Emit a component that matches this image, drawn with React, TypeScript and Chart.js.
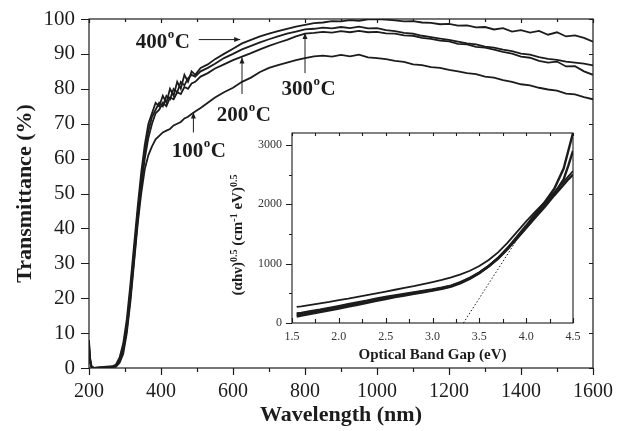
import React, { useEffect, useRef } from 'react';
import { Chart, registerables } from 'chart.js';

Chart.register(...registerables);

// ---------- Main chart data ----------
const wavelengths = [200, 203, 207, 215, 240, 265, 275, 285, 295, 305, 315, 325, 335, 345, 355, 365, 375, 385, 395, 405, 415, 425, 435, 445, 455, 465, 475, 485, 495, 510, 530, 550, 575, 600, 625, 650, 675, 700, 725, 750, 775, 800, 825, 850, 875, 900, 925, 950, 975, 1000, 1025, 1050, 1075, 1100, 1125, 1150, 1175, 1200, 1225, 1250, 1275, 1300, 1325, 1350, 1375, 1400, 1425, 1450, 1475, 1500, 1525, 1550, 1575, 1600];

const t400 = [8, 3, 0.5, 0, 0.3, 0.5, 1, 3, 7, 14, 24, 35, 46, 56, 64, 70, 73, 76, 75, 78, 76, 80, 78, 82, 80, 84, 82, 85, 84, 86, 87, 88.5, 90, 91.5, 93, 94, 95, 95.8, 96.5, 97.2, 97.8, 98.3, 98.8, 99, 99.4, 99.3, 99.7, 99.5, 99.9, 100, 99.8, 99.6, 99.3, 99.4, 99, 98.9, 98.5, 98.6, 98.1, 98.2, 97.6, 97.7, 97, 97.4, 96.4, 96.8, 96.1, 96.6, 95.5, 96.2, 95, 95.3, 94.6, 93.5];

const t300 = [7, 2.5, 0.3, 0, 0.2, 0.3, 0.8, 2.5, 6, 12, 22, 33, 44, 54, 62, 68, 72, 74, 76, 75, 78, 77, 80, 79, 82, 81, 83, 84, 83.5, 85, 86, 87.2, 88.8, 90, 91.3, 92.3, 93.3, 94.2, 95, 95.8, 96.4, 97, 97.2, 97.5, 97.3, 97.7, 97.4, 97.8, 97.3, 97.4, 96.8, 96.5, 96, 95.8, 95.2, 94.8, 94.4, 94, 93.5, 93, 92.7, 92.1, 91.8, 91.2, 90.8, 90.1, 89.8, 89.1, 88.6, 88.3, 87.8, 87.5, 87.2, 86.7];

const t200 = [6, 2, 0.2, 0, 0.2, 0.2, 0.5, 2, 5, 11, 20, 31, 42, 52, 60, 66, 70, 73, 74, 76, 75, 77.5, 77, 79, 78.5, 80.5, 80, 81.5, 82, 83.5, 84.5, 85.8, 87, 88.2, 89.2, 90.2, 91.3, 92.3, 93.2, 94, 95, 95.8, 96, 96.3, 96.1, 96.5, 96.2, 96.6, 96.2, 96.3, 95.9, 95.8, 95.3, 95.2, 94.6, 94.3, 93.8, 93.6, 92.9, 92.7, 92, 91.8, 91.2, 90.6, 90.1, 89.2, 88.9, 88, 87.5, 87.8, 86.4, 86.5, 85, 84];

const t100 = [5, 1.5, 0.2, 0, 0.1, 0.2, 0.4, 1.5, 4, 10, 19, 30, 41, 50, 57, 61, 63.5, 65.5, 66.5, 67.5, 68, 68.5, 69.5, 70, 70.5, 71.5, 72, 72.8, 73.5, 74.5, 76, 77.5, 79, 80.3, 82, 83.2, 84.8, 86, 86.8, 87.5, 88.2, 88.8, 89.3, 89.5, 89.2, 89.7, 89.3, 89.8, 89, 88.8, 88.5, 88, 87.7, 87, 86.8, 86.2, 86, 85.4, 85, 84.5, 84.2, 83.5, 83.2, 82.5, 82, 81.3, 81, 80.3, 79.8, 79.5, 78.6, 78.4, 77.6, 77];

const mainXTickLabels = [200, 400, 600, 800, 1000, 1200, 1400, 1600];
const mainYTickLabels = [0, 10, 20, 30, 40, 50, 60, 70, 80, 90, 100];

// ---------- Inset data ----------
const insetEnergy = [1.55, 1.6, 1.7, 1.8, 1.9, 2.0, 2.1, 2.2, 2.3, 2.4, 2.5, 2.6, 2.7, 2.8, 2.9, 3.0, 3.1, 3.2, 3.3, 3.4, 3.5, 3.6, 3.7, 3.8, 3.9, 4.0, 4.1, 4.2, 4.3, 4.4, 4.45, 4.5];

const insetA = [270, 280, 305, 330, 355, 385, 410, 440, 470, 500, 530, 560, 590, 620, 655, 690, 725, 770, 820, 880, 960, 1060, 1190, 1350, 1530, 1710, 1880, 2040, 2200, 2380, 2470, 2560];
const insetB = [160, 170, 200, 225, 255, 285, 315, 345, 375, 410, 440, 465, 490, 515, 540, 565, 595, 630, 690, 760, 850, 960, 1090, 1250, 1430, 1610, 1800, 1990, 2180, 2420, 2650, 2900];
const insetC = [110, 125, 155, 185, 215, 245, 275, 305, 340, 375, 405, 435, 460, 490, 515, 545, 575, 615, 670, 745, 840, 955, 1095, 1260, 1450, 1640, 1840, 2040, 2260, 2600, 2900, 3200];
const insetD = [140, 150, 180, 210, 240, 270, 300, 330, 360, 395, 425, 450, 478, 505, 530, 555, 585, 625, 680, 755, 845, 955, 1085, 1245, 1420, 1600, 1780, 1960, 2150, 2330, 2420, 2500];

const tangentX = [3.33, 3.9];
const tangentY = [0, 1400];

const insetXTickLabels = [1.5, 2.0, 2.5, 3.0, 3.5, 4.0, 4.5];
const insetYTickLabels = [0, 1000, 2000, 3000];

// ---------- Labels (temperature annotations) ----------
const tempLabels = ['400', '200', '300', '100'];

const SERIF = "'Liberation Serif', 'Times New Roman', serif";
const INK = '#1c1c1c';

function pts(xs: number[], ys: number[]) {
  return xs.map((x, i) => ({ x, y: ys[i] }));
}

function noPad(s: any) {
  s.paddingTop = 0;
  s.paddingBottom = 0;
  s.paddingLeft = 0;
  s.paddingRight = 0;
}

function drawTempLabel(ctx: CanvasRenderingContext2D, num: string, cx: number, cy: number) {
  const big = `bold 21px ${SERIF}`;
  const small = `bold 13px ${SERIF}`;
  ctx.font = big;
  const wNum = ctx.measureText(num).width;
  const wC = ctx.measureText('C').width;
  ctx.font = small;
  const wO = ctx.measureText('o').width;
  const total = wNum + wO + 1 + wC;
  let x = cx - total / 2;
  ctx.textBaseline = 'alphabetic';
  ctx.textAlign = 'left';
  ctx.fillStyle = INK;
  ctx.font = big;
  ctx.fillText(num, x, cy + 7);
  x += wNum;
  ctx.font = small;
  ctx.fillText('o', x + 0.5, cy - 3);
  x += wO + 1;
  ctx.font = big;
  ctx.fillText('C', x, cy + 7);
}

function arrow(ctx: CanvasRenderingContext2D, x1: number, y1: number, x2: number, y2: number) {
  ctx.beginPath();
  ctx.moveTo(x1, y1);
  ctx.lineTo(x2, y2);
  ctx.stroke();
  const ang = Math.atan2(y2 - y1, x2 - x1);
  const L = 6, W = 2.5;
  ctx.beginPath();
  ctx.moveTo(x2, y2);
  ctx.lineTo(x2 - L * Math.cos(ang) + W * Math.sin(ang), y2 - L * Math.sin(ang) - W * Math.cos(ang));
  ctx.lineTo(x2 - L * Math.cos(ang) - W * Math.sin(ang), y2 - L * Math.sin(ang) + W * Math.cos(ang));
  ctx.closePath();
  ctx.fill();
}

const mainFrame = {
  id: 'mainFrame',
  afterDraw(chart: any) {
    const { ctx, chartArea: a, scales } = chart;
    const sx = scales.x, sy = scales.y;
    ctx.save();
    ctx.strokeStyle = INK;
    ctx.fillStyle = INK;
    ctx.lineWidth = 1.2;
    ctx.strokeRect(a.left, a.top, a.right - a.left, a.bottom - a.top);
    ctx.beginPath();
    for (let v = 200; v <= 1600; v += 100) {
      const px = Math.round(sx.getPixelForValue(v)) + 0.5;
      const major = mainXTickLabels.includes(v);
      ctx.moveTo(px, a.bottom);
      ctx.lineTo(px, a.bottom + (major ? 7 : 4));
      ctx.moveTo(px, a.top);
      ctx.lineTo(px, a.top + (major ? 4 : 3));
    }
    for (let v = 0; v <= 100; v += 10) {
      const py = Math.round(sy.getPixelForValue(v)) + 0.5;
      ctx.moveTo(a.left, py);
      ctx.lineTo(a.left - 8, py);
      ctx.moveTo(a.right, py);
      ctx.lineTo(a.right - 4, py);
    }
    ctx.stroke();

    // temperature annotations (data coordinates)
    const P = (x: number, y: number) => [sx.getPixelForValue(x), sy.getPixelForValue(y)];
    ctx.lineWidth = 1;
    let p1 = P(505, 94.1), p2 = P(620, 94.1);
    arrow(ctx, p1[0], p1[1], p2[0], p2[1]);
    let c = P(405, 93.8);
    drawTempLabel(ctx, tempLabels[0], c[0], c[1]);

    p1 = P(625, 78.5); p2 = P(625, 89);
    arrow(ctx, p1[0], p1[1], p2[0], p2[1]);
    c = P(630, 72.8);
    drawTempLabel(ctx, tempLabels[1], c[0], c[1]);

    p1 = P(800, 84.5); p2 = P(800, 96);
    arrow(ctx, p1[0], p1[1], p2[0], p2[1]);
    c = P(810, 80.3);
    drawTempLabel(ctx, tempLabels[2], c[0], c[1]);

    p1 = P(490, 67.5); p2 = P(490, 73.2);
    arrow(ctx, p1[0], p1[1], p2[0], p2[1]);
    c = P(505, 62.5);
    drawTempLabel(ctx, tempLabels[3], c[0], c[1]);
    ctx.restore();
  },
};

const insetFrame = {
  id: 'insetFrame',
  afterDraw(chart: any) {
    const { ctx, chartArea: a, scales } = chart;
    const sx = scales.x, sy = scales.y;
    ctx.save();
    ctx.strokeStyle = INK;
    ctx.lineWidth = 1.1;
    ctx.strokeRect(a.left, a.top, a.right - a.left, a.bottom - a.top);
    ctx.beginPath();
    for (let i = 0; i <= 12; i++) {
      const v = 1.5 + i * 0.25;
      const px = Math.round(sx.getPixelForValue(v)) + 0.5;
      const major = i % 2 === 0;
      ctx.moveTo(px, a.bottom);
      ctx.lineTo(px, a.bottom - (major ? 5 : 4));
      ctx.moveTo(px, a.top);
      ctx.lineTo(px, a.top + 3);
    }
    for (let v = 0; v <= 3000; v += 500) {
      const py = Math.round(sy.getPixelForValue(v)) + 0.5;
      const major = v % 1000 === 0;
      ctx.moveTo(a.left, py);
      ctx.lineTo(a.left - (major ? 6 : 3), py);
    }
    ctx.stroke();

    // rotated y title with superscripts
    const cx = 9;
    const cy = (a.top + a.bottom) / 2 + 7;
    const big = `bold 15px ${SERIF}`;
    const small = `bold 10px ${SERIF}`;
    const parts: [string, boolean][] = [
      ['(\u03b1h\u03bd)', false], ['0.5', true], [' (cm', false], ['-1', true], [' eV)', false], ['0.5', true],
    ];
    let total = 0;
    const widths = parts.map(([t, sup]) => {
      ctx.font = sup ? small : big;
      const w = ctx.measureText(t).width;
      total += w;
      return w;
    });
    ctx.translate(cx, cy);
    ctx.rotate(-Math.PI / 2);
    ctx.fillStyle = INK;
    ctx.textBaseline = 'alphabetic';
    ctx.textAlign = 'left';
    let x = -total / 2;
    parts.forEach(([t, sup], i) => {
      ctx.font = sup ? small : big;
      ctx.fillText(t, x, sup ? 0 : 5);
      x += widths[i];
    });
    ctx.restore();
  },
};

export default function App() {
  const mainRef = useRef<HTMLCanvasElement>(null);
  const insetRef = useRef<HTMLCanvasElement>(null);

  useEffect(() => {
    const lineDs = (label: string, ys: number[]) => ({
      label,
      data: pts(wavelengths, ys),
      borderColor: INK,
      borderWidth: 1.8,
      pointRadius: 0,
      fill: false,
      tension: 0,
    });
    const main = new Chart(mainRef.current!, {
      type: 'line',
      data: {
        datasets: [
          lineDs('400°C', t400),
          lineDs('300°C', t300),
          lineDs('200°C', t200),
          lineDs('100°C', t100),
        ],
      },
      options: {
        animation: false,
        responsive: false,
        maintainAspectRatio: false,
        events: [],
        layout: { padding: { left: 0, right: 36, top: 19, bottom: 0 } },
        plugins: { legend: { display: false }, tooltip: { enabled: false } },
        scales: {
          x: {
            type: 'linear',
            min: 200,
            max: 1600,
            afterFit: (s: any) => { s.height = 63; noPad(s); },
            grid: { display: false, drawTicks: false },
            border: { display: false },
            ticks: {
              stepSize: 100,
              autoSkip: false,
              maxRotation: 0,
              padding: 12,
              color: INK,
              font: { family: SERIF, size: 20 },
              callback: (v: any) => (mainXTickLabels.includes(Number(v)) ? String(v) : ''),
            },
            title: {
              display: true,
              text: 'Wavelength (nm)',
              color: INK,
              font: { family: SERIF, size: 22, weight: 'bold' },
              padding: { top: 0, bottom: 2 },
            },
          },
          y: {
            type: 'linear',
            min: 0,
            max: 100,
            afterFit: (s: any) => { s.width = 89; noPad(s); },
            grid: { display: false, drawTicks: false },
            border: { display: false },
            ticks: {
              stepSize: 10,
              autoSkip: false,
              padding: 14,
              color: INK,
              font: { family: SERIF, size: 21 },
              callback: (v: any) => (mainYTickLabels.includes(Number(v)) ? String(v) : ''),
            },
            title: {
              display: true,
              text: 'Transmittance (%)',
              color: INK,
              font: { family: SERIF, size: 22, weight: 'bold' },
              padding: { top: 12, bottom: 0 },
            },
          },
        },
      },
      plugins: [mainFrame],
    } as any);

    const insetDs = (label: string, ys: number[], w: number) => ({
      label,
      data: pts(insetEnergy, ys),
      borderColor: INK,
      borderWidth: w,
      pointRadius: 0,
      fill: false,
      tension: 0,
    });
    const inset = new Chart(insetRef.current!, {
      type: 'line',
      data: {
        datasets: [
          insetDs('A', insetA, 1.8),
          insetDs('B', insetB, 2.4),
          insetDs('C', insetC, 2.4),
          insetDs('D', insetD, 2.4),
          {
            label: 'tangent',
            data: pts(tangentX, tangentY),
            borderColor: INK,
            borderWidth: 1,
            borderDash: [1.5, 2],
            pointRadius: 0,
            fill: false,
          },
        ],
      },
      options: {
        animation: false,
        responsive: false,
        maintainAspectRatio: false,
        events: [],
        layout: { padding: { left: 0, right: 15, top: 8, bottom: 0 } },
        plugins: { legend: { display: false }, tooltip: { enabled: false } },
        scales: {
          x: {
            type: 'linear',
            min: 1.5,
            max: 4.5,
            afterFit: (s: any) => { s.height = 42; noPad(s); },
            afterBuildTicks: (s: any) => { s.ticks = insetXTickLabels.map((v) => ({ value: v })); },
            grid: { display: false, drawTicks: false },
            border: { display: false },
            ticks: {
              autoSkip: false,
              maxRotation: 0,
              padding: 7,
              color: '#333',
              font: { family: SERIF, size: 12 },
              callback: (v: any) => Number(v).toFixed(1),
            },
            title: {
              display: true,
              text: 'Optical Band Gap (eV)',
              color: INK,
              font: { family: SERIF, size: 15, weight: 'bold' },
              padding: { top: 0, bottom: 1 },
            },
          },
          y: {
            type: 'linear',
            min: 0,
            max: 3200,
            afterFit: (s: any) => { s.width = 64; noPad(s); },
            afterBuildTicks: (s: any) => { s.ticks = insetYTickLabels.map((v) => ({ value: v })); },
            grid: { display: false, drawTicks: false },
            border: { display: false },
            ticks: {
              autoSkip: false,
              padding: 10,
              color: '#333',
              font: { family: SERIF, size: 12 },
              callback: (v: any) => String(v),
            },
          },
        },
      },
      plugins: [insetFrame],
    } as any);

    return () => {
      main.destroy();
      inset.destroy();
    };
  }, []);

  return (
    <div style={{ position: 'fixed', left: 0, top: 0, width: 629, height: 431, background: '#fff' }}>
      <canvas ref={mainRef} width={629} height={431} style={{ position: 'absolute', left: 0, top: 0, width: 629, height: 431 }} />
      <canvas ref={insetRef} width={360} height={240} style={{ position: 'absolute', left: 228, top: 125, width: 360, height: 240 }} />
    </div>
  );
}
